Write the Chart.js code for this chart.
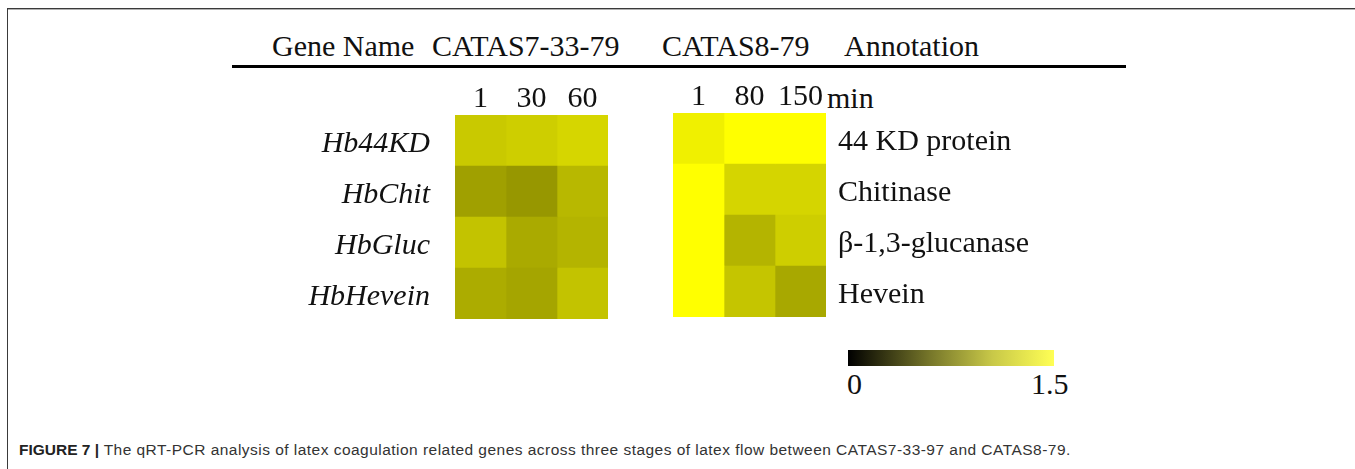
<!DOCTYPE html>
<html>
<head>
<meta charset="utf-8">
<script src="https://cdn.jsdelivr.net/npm/chart.js@4.4.1/dist/chart.umd.min.js"></script>
<style>
  html, body { margin:0; padding:0; background:#fff; }
  body { width:1355px; height:469px; position:relative; overflow:hidden; }
  .abs { position:absolute; white-space:nowrap; }
  .serif { font-family:"Liberation Serif","Times New Roman",serif; font-size:30px; line-height:30px; color:#111; }
  #frameTop { left:8px; top:8px; width:1347px; height:1px; background:#3a3a3a; border-bottom:1px solid #b0b0b0; }
  #frameLeft { left:7px; top:8px; width:1px; height:461px; background:#3a3a3a; }
  #rule { left:232px; top:65px; width:894px; height:3px; background:#000; }
  #cbar { left:848px; top:350px; width:206px; height:16px;
          background:linear-gradient(to right, #000000 0%, #77772a 40%, #c8c848 70%, #ffff55 100%); }
  #caption { left:19px; top:441px; font-family:"Liberation Sans",Arial,sans-serif; font-size:15.5px; letter-spacing:0.47px; line-height:18px; color:#333; }
  #caption b { color:#222; letter-spacing:0; }
  .wrap { position:absolute; }
</style>
</head>
<body>
<div id="frameTop" class="abs"></div>
<div id="frameLeft" class="abs"></div>

<div class="abs serif" style="left:272px;top:31px;">Gene Name</div>
<div class="abs serif" style="left:432px;top:31px;">CATAS7-33-79</div>
<div class="abs serif" style="left:662px;top:31px;">CATAS8-79</div>
<div class="abs serif" style="left:844px;top:31px;">Annotation</div>
<div id="rule" class="abs"></div>
<div class="abs serif" style="left:827px;top:83px;">min</div>

<div class="wrap" style="left:230px;top:78px;width:378px;height:241px;"><canvas id="left" style="width:378px;height:241px;"></canvas></div>
<div class="wrap" style="left:673px;top:76px;width:420px;height:241px;"><canvas id="right" style="width:420px;height:241px;"></canvas></div>

<div id="cbar" class="abs"></div>
<div class="abs serif" style="left:847px;top:369px;">0</div>
<div class="abs serif" style="left:1031px;top:369px;">1.5</div>

<div id="caption" class="abs"><b>FIGURE 7 |</b> The qRT-PCR analysis of latex coagulation related genes across three stages of latex flow between CATAS7-33-97 and CATAS8-79.</div>

<script>
// ---- data ----
const genes = ["Hb44KD", "HbChit", "HbGluc", "HbHevein"];
const annotations = ["44 KD protein", "Chitinase", "\u03B2-1,3-glucanase", "Hevein"];
const timesCat7 = ["1", "30", "60"];
const timesCat8 = ["1", "80", "150"];
// relative expression, rows = genes, columns = time points
const cat7Values = [
  [1.18, 1.21, 1.26],
  [0.94, 0.89, 1.08],
  [1.15, 1.00, 1.06],
  [1.01, 0.97, 1.15]
];
const cat8Values = [
  [1.41, 1.62, 1.60],
  [1.70, 1.25, 1.25],
  [1.72, 1.06, 1.21],
  [1.68, 1.16, 0.99]
];
const scaleMax = 1.5;

function heatColor(v) {
  const t = Math.max(0, Math.min(1, v / scaleMax));
  const c = Math.round(255 * t);
  return `rgb(${c},${c},0)`;
}

function makeHeatmap(canvasId, values, times, rowLabels, side, sideWidth, italic) {
  const datasets = times.map((t, c) => ({
    label: t,
    data: rowLabels.map(() => 1),
    backgroundColor: values.map(row => heatColor(row[c])),
    borderWidth: 0,
    categoryPercentage: 1,
    barPercentage: 1
  }));
  return new Chart(document.getElementById(canvasId), {
    type: 'bar',
    data: { labels: rowLabels, datasets },
    options: {
      indexAxis: 'y',
      responsive: true,
      maintainAspectRatio: false,
      animation: false,
      devicePixelRatio: 1,
      layout: { padding: 0 },
      plugins: { legend: { display: false }, tooltip: { enabled: false } },
      scales: {
        x: {
          type: 'linear', position: 'top', stacked: true,
          min: 0, max: times.length,
          grid: { display: false, drawTicks: false },
          border: { display: false },
          afterBuildTicks: s => { s.ticks = times.map((t, i) => ({ value: i + 0.5 })); },
          afterFit: s => { s.height = 37; s.paddingLeft = 0; s.paddingRight = 0; },
          ticks: {
            autoSkip: false, maxRotation: 0, padding: -2,
            color: '#111',
            font: { family: 'Liberation Serif', size: 30 },
            callback: (v, i) => times[i]
          }
        },
        y: {
          type: 'category', position: side, stacked: true,
          grid: { display: false, drawTicks: false },
          border: { display: false },
          afterFit: s => { s.width = sideWidth; s.paddingTop = 0; s.paddingBottom = 0; },
          ticks: {
            padding: side === 'left' ? 25 : 12,
            labelOffset: 4,
            color: '#111',
            font: { family: 'Liberation Serif', size: 30, style: italic ? 'italic' : 'normal' }
          }
        }
      }
    }
  });
}

makeHeatmap('left', cat7Values, timesCat7, genes, 'left', 225, true);
makeHeatmap('right', cat8Values, timesCat8, annotations, 'right', 267, false);
</script>
</body>
</html>
